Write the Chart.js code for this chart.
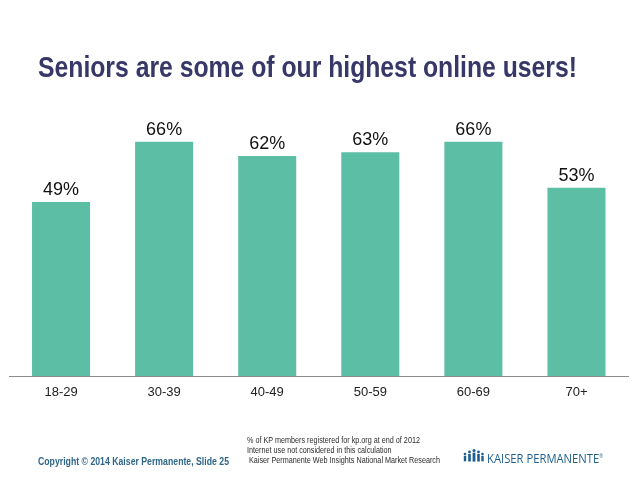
<!DOCTYPE html>
<html>
<head>
<meta charset="utf-8">
<script src="https://cdn.jsdelivr.net/npm/chart.js@4.4.1/dist/chart.umd.min.js"></script>
<style>
  html, body { margin: 0; padding: 0; background: #fff; }
  #wrap { position: relative; width: 638px; height: 479px; overflow: hidden; }
  #chart { position: absolute; left: 0; top: 0; }
  .title {
    position: absolute; left: 38px; top: 52px; white-space: nowrap;
    font-family: "Liberation Sans Narrow", "Liberation Sans", Arial, sans-serif;
    font-weight: bold; font-size: 29px; line-height: 30px; color: #383868;
    transform-origin: 0 0;
  }
  .copy {
    position: absolute; left: 38px; top: 455px; white-space: nowrap;
    font-family: "Liberation Sans Narrow", "Liberation Sans", Arial, sans-serif;
    font-weight: bold; font-size: 11px; line-height: 12px; color: #2f6688;
    transform-origin: 0 0;
  }
  .notes {
    position: absolute; left: 247px; top: 435px; white-space: nowrap;
    font-family: "Liberation Sans Narrow", "Liberation Sans", Arial, sans-serif;
    font-size: 8.8px; line-height: 10px; color: #2a2a2a;
    transform-origin: 0 0;
  }
  .logo { position: absolute; left: 462px; top: 449px; height: 14px; white-space: nowrap; }
  .logo svg { position: absolute; left: 0; top: 0; }
  .logo .name {
    position: absolute; left: 25px; top: 0px; white-space: nowrap;
    font-family: "Open Sans", "Liberation Sans", Arial, sans-serif;
    font-size: 12.5px; line-height: 14px; color: #1d5e8e;
    transform-origin: 0 0;
  }
  .logo sup { font-size: 5px; }
</style>
</head>
<body>
<div id="wrap">
  <canvas id="chart" width="638" height="479"></canvas>
  <div class="title" id="title">Seniors are some of our highest online users!</div>
  <div class="notes" id="notes">% of KP members registered for kp.org at end of 2012<br>Internet use not considered in this calculation<br>&nbsp;Kaiser Permanente Web Insights National Market Research</div>
  <div class="copy" id="copy">Copyright © 2014 Kaiser Permanente, Slide 25</div>
  <div class="logo">
    <svg width="22" height="13" viewBox="0 0 22 13">
      <g fill="#1d5e8e">
        <circle cx="3" cy="5" r="1.3"/><rect x="1.8" y="6.8" width="2.4" height="5.5"/>
        <circle cx="7.5" cy="3" r="1.4"/><rect x="6.2" y="5" width="2.6" height="7.5"/>
        <circle cx="12" cy="1.6" r="1.5"/><rect x="10.6" y="3.6" width="2.8" height="9"/>
        <circle cx="16.5" cy="3" r="1.4"/><rect x="15.2" y="5" width="2.6" height="7.5"/>
        <circle cx="20.5" cy="5" r="1.3"/><rect x="19.3" y="6.8" width="2.4" height="5.5"/>
      </g>
    </svg>
    <div class="name" id="kpname">KAISER PERMANENTE<sup>®</sup></div>
  </div>
</div>
<script>
var ageGroups = ["18-29", "30-39", "40-49", "50-59", "60-69", "70+"];
var registeredPct = [49, 66, 62, 63, 66, 53];

function fitWidth(id, target) {
  var el = document.getElementById(id);
  var w = el.getBoundingClientRect().width;
  el.style.transform = "scaleX(" + (target / w) + ")";
}
fitWidth("title", 539);
fitWidth("copy", 191);
fitWidth("notes", 193);
fitWidth("kpname", 116);

var valueLabels = {
  id: "valueLabels",
  afterDatasetsDraw: function(chart) {
    var ctx = chart.ctx;
    var meta = chart.getDatasetMeta(0);
    ctx.save();
    ctx.font = "18px 'Liberation Sans', Arial, sans-serif";
    ctx.fillStyle = "#111";
    ctx.textAlign = "center";
    ctx.textBaseline = "alphabetic";
    meta.data.forEach(function(bar, i) {
      ctx.fillText(registeredPct[i] + "%", bar.x, bar.y - 7);
    });
    ctx.restore();
  }
};

var ctx = document.getElementById("chart");
var chart = new Chart(ctx, {
  type: "bar",
  data: {
    labels: ageGroups,
    datasets: [{
      label: "% registered",
      data: registeredPct,
      backgroundColor: "#5cbea5",
      borderWidth: 0,
      categoryPercentage: 1.0,
      barPercentage: 0.563
    }]
  },
  options: {
    responsive: false,
    animation: false,
    devicePixelRatio: 1,
    layout: { padding: { left: 9.5, right: 10, top: 92, bottom: 69.4 } },
    plugins: {
      legend: { display: false },
      tooltip: { enabled: false },
      title: { display: false }
    },
    scales: {
      x: {
        grid: { display: false, drawTicks: false },
        border: { display: true, color: "#8c8c8c", width: 1 },
        ticks: {
          color: "#222",
          padding: 9,
          font: { family: "'Liberation Sans', Arial, sans-serif", size: 13 }
        }
      },
      y: {
        display: false,
        min: 0,
        max: 80
      }
    }
  },
  plugins: [valueLabels]
});
</script>
</body>
</html>
